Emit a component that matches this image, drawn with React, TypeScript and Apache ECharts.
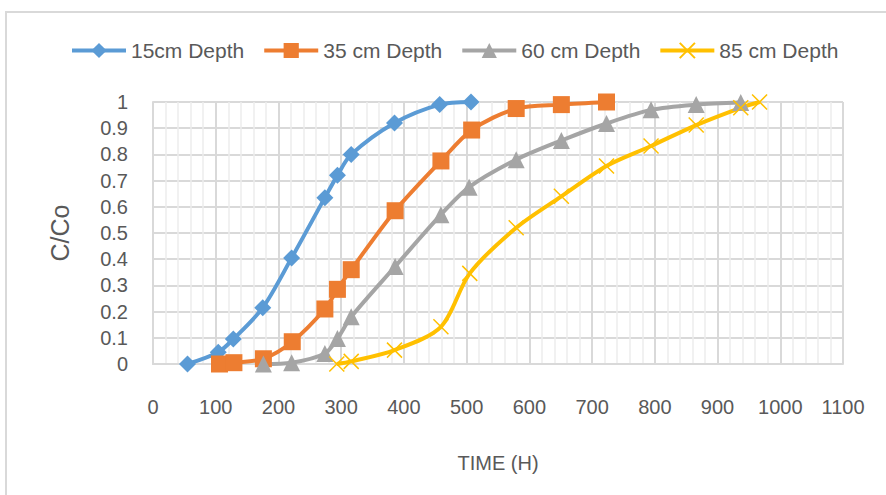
import React, { useEffect, useRef } from "react";
import * as echarts from "echarts";

const seriesNames = ["15cm Depth", "35 cm Depth", "60 cm Depth", "85 cm Depth"];

const t15 = [55, 104, 128, 175, 221, 274, 294, 316, 385, 457, 507];
const c15 = [0, 0.045, 0.095, 0.215, 0.405, 0.635, 0.72, 0.8, 0.92, 0.99, 1.0];

const t35 = [106, 129, 176, 222, 274, 294, 316, 386, 459, 508, 579, 651, 723];
const c35 = [0, 0.005, 0.02, 0.085, 0.21, 0.285, 0.36, 0.585, 0.775, 0.893, 0.975, 0.99, 1.0];

const t60 = [176, 221, 274, 294, 316, 386, 459, 504, 579, 651, 723, 794, 866, 937];
const c60 = [0, 0.005, 0.04, 0.097, 0.18, 0.372, 0.57, 0.675, 0.78, 0.853, 0.918, 0.97, 0.99, 0.998];

const t85 = [293, 316, 385, 459, 505, 579, 651, 723, 794, 866, 937, 967];
const c85 = [0, 0.01, 0.053, 0.142, 0.346, 0.52, 0.64, 0.756, 0.832, 0.912, 0.978, 1.0];

const xTitle = "TIME (H)";
const yTitle = "C/Co";

const pair = (t: number[], c: number[]) => t.map((v, i) => [v, c[i]]);

const FONT = "Liberation Sans";
const TXT = "#595959";

export default function App() {
  const ref = useRef<HTMLDivElement>(null);
  useEffect(() => {
    if (!ref.current) return;
    const chart = echarts.init(ref.current, null, { renderer: "svg" });
    const mk = (
      name: string,
      data: number[][],
      color: string,
      symbol: string,
      size: number,
      extra: any = {}
    ) => ({
      name,
      type: "line",
      data,
      smooth: 0.3,
      symbol,
      symbolSize: size,
      showAllSymbol: true,
      lineStyle: { color, width: 4 },
      itemStyle: { color, ...extra },
      emphasis: { disabled: true },
    });
    chart.setOption({
      animation: false,
      textStyle: { fontFamily: FONT },
      graphic: [
        {
          type: "rect",
          shape: { x: 6, y: 12, width: 900, height: 500 },
          style: { fill: "none", stroke: "#d9d9d9", lineWidth: 2 },
          silent: true,
        },
      ],
      legend: {
        top: 35,
        left: 65,
        itemWidth: 54,
        itemHeight: 19,
        itemGap: 18,
        lineStyle: { width: 4 },
        textStyle: { color: TXT, fontSize: 21, fontFamily: FONT },
        data: seriesNames,
      },
      grid: { left: 153, right: 43, top: 102, bottom: 131 },
      xAxis: {
        type: "value",
        min: 0,
        max: 1100,
        interval: 100,
        name: xTitle,
        nameLocation: "middle",
        nameGap: 89,
        nameTextStyle: { color: TXT, fontSize: 20, fontFamily: FONT },
        axisLine: { show: true, lineStyle: { color: "#d9d9d9", width: 2 } },
        axisTick: { show: false },
        axisLabel: {
          color: TXT,
          fontSize: 20,
          margin: 33,
          fontFamily: FONT,
          formatter: (v: number) => String(v),
        },
        splitLine: { show: true, lineStyle: { color: "#d9d9d9", width: 2 } },
        minorTick: { show: false, splitNumber: 5 },
        minorSplitLine: { show: true, lineStyle: { color: "#ececec", width: 1.5 } },
      },
      yAxis: {
        type: "value",
        min: 0,
        max: 1,
        interval: 0.1,
        name: yTitle,
        nameLocation: "middle",
        nameGap: 81,
        nameTextStyle: { color: TXT, fontSize: 25, fontFamily: FONT },
        axisLine: { show: true, lineStyle: { color: "#d9d9d9", width: 2 } },
        axisTick: { show: false },
        axisLabel: {
          color: TXT,
          fontSize: 20,
          margin: 25,
          fontFamily: FONT,
          formatter: (v: number) => String(Math.round(v * 10) / 10),
        },
        splitLine: { show: true, lineStyle: { color: "#d9d9d9", width: 2 } },
      },
      series: [
        mk(seriesNames[0], pair(t15, c15), "#5b9bd5", "diamond", 17),
        mk(seriesNames[1], pair(t35, c35), "#ed7d31", "rect", 17),
        mk(seriesNames[2], pair(t60, c60), "#a5a5a5", "triangle", 17),
        mk(
          seriesNames[3],
          pair(t85, c85),
          "#ffc000",
          "path://M0,0L10,10M10,0L0,10",
          15,
          { borderColor: "#ffc000", borderWidth: 1.5 }
        ),
      ],
    });
    return () => chart.dispose();
  }, []);
  return (
    <div
      ref={ref}
      style={{ position: "fixed", left: 0, top: 0, width: 886, height: 495, background: "#fff" }}
    />
  );
}
